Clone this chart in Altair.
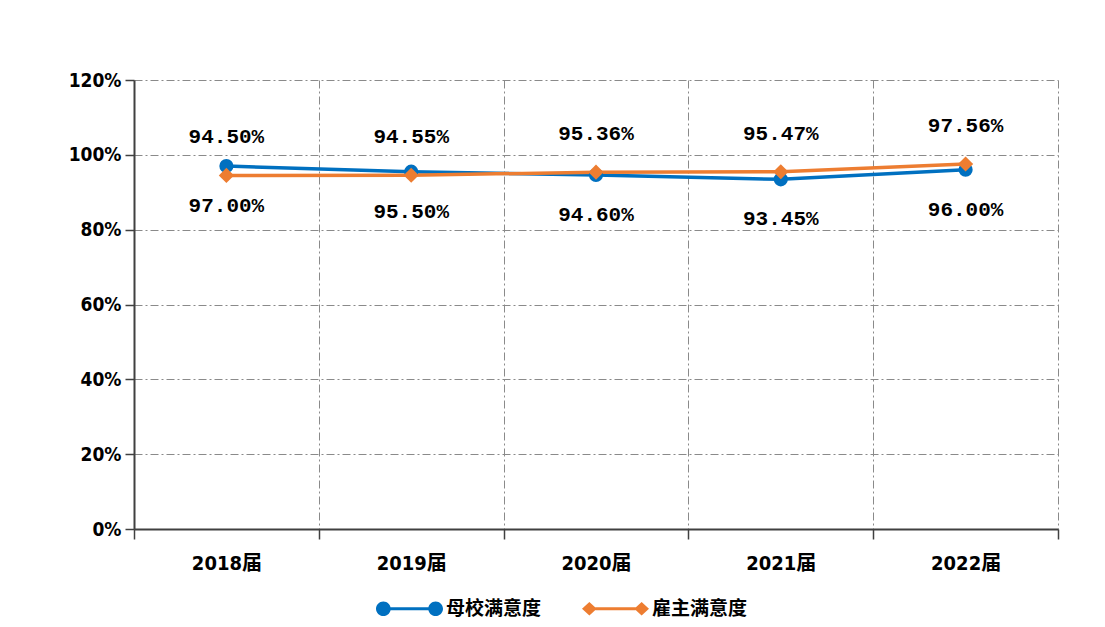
import altair as alt
import pandas as pd

years = ["2018届", "2019届", "2020届", "2021届", "2022届"]
school = [0.9700, 0.9550, 0.9460, 0.9345, 0.9600]      # 母校满意度
employer = [0.9450, 0.9455, 0.9536, 0.9547, 0.9756]    # 雇主满意度
series_names = ["母校满意度", "雇主满意度"]
colors = ["#0070C0", "#ED7D31"]
y_ticks = [0, 0.2, 0.4, 0.6, 0.8, 1.0, 1.2]

rows = []
for y, v in zip(years, school):
    rows.append({"year": y, "value": v, "series": series_names[0]})
for y, v in zip(years, employer):
    rows.append({"year": y, "value": v, "series": series_names[1]})
df = pd.DataFrame(rows)

NUM_FONT = "'Liberation Sans Narrow', 'DejaVu Sans Condensed', 'Liberation Sans', 'Noto Sans CJK SC'"
LBL_FONT = "'Liberation Mono', 'DejaVu Sans Mono', monospace"
CJK_FONT = "'Noto Sans CJK SC', sans-serif"

x_enc = alt.X("year:N", sort=years,
              scale=alt.Scale(type="band", paddingInner=0, paddingOuter=0),
              axis=alt.Axis(title=None, labelAngle=0, tickBand="extent", tickSize=10,
                            labelPadding=14, labelFont=NUM_FONT, labelFontSize=20,
                            labelFontWeight="bold", labelColor="#000000",
                            domainColor="#404040", domainWidth=2, tickColor="#404040",
                            tickWidth=1.5, grid=True, gridColor="#8a8a8a",
                            gridDash=[8, 3, 2, 3], gridWidth=1))
y_enc = alt.Y("value:Q",
              scale=alt.Scale(domain=[0, 1.2], nice=False),
              axis=alt.Axis(title=None, values=y_ticks, format=".0%", tickSize=9,
                            labelPadding=4, labelFont=NUM_FONT, labelFontSize=19,
                            labelFontWeight="bold", labelColor="#000000",
                            domainColor="#404040", domainWidth=2, tickColor="#404040",
                            tickWidth=1.5, grid=True, gridColor="#8a8a8a",
                            gridDash=[8, 3, 2, 3], gridWidth=1))
color_noleg = alt.Color("series:N", scale=alt.Scale(domain=series_names, range=colors), legend=None)

base = alt.Chart(df)

lines = base.mark_line(strokeWidth=3.5).encode(x=x_enc, y=y_enc, color=color_noleg)

pts_school = base.transform_filter(alt.datum.series == series_names[0]).mark_point(
    shape="circle", filled=True, size=200, opacity=1).encode(x=x_enc, y=y_enc, color=color_noleg)
pts_emp = base.transform_filter(alt.datum.series == series_names[1]).mark_point(
    shape="diamond", filled=True, size=230, opacity=1).encode(x=x_enc, y=y_enc, color=color_noleg)

txt_top = base.transform_filter(alt.datum.series == series_names[1]).mark_text(
    dy=-38, font=LBL_FONT, fontSize=21, fontWeight="bold", color="#000000").encode(
    x=x_enc, y=y_enc, text=alt.Text("value:Q", format=".2%"))
txt_bot = base.transform_filter(alt.datum.series == series_names[0]).mark_text(
    dy=40, font=LBL_FONT, fontSize=21, fontWeight="bold", color="#000000").encode(
    x=x_enc, y=y_enc, text=alt.Text("value:Q", format=".2%"))

leg_paths = [
    "M-1,0 A0.22,0.22 0 1,1 -0.56,0 A0.22,0.22 0 1,1 -1,0 Z "
    "M0.56,0 A0.22,0.22 0 1,1 1,0 A0.22,0.22 0 1,1 0.56,0 Z "
    "M-0.6,-0.045 L0.6,-0.045 L0.6,0.045 L-0.6,0.045 Z",
    "M-1,0 L-0.78,-0.2 L-0.56,0 L-0.78,0.2 Z "
    "M0.56,0 L0.78,-0.2 L1,0 L0.78,0.2 Z "
    "M-0.6,-0.045 L0.6,-0.045 L0.6,0.045 L-0.6,0.045 Z",
]
legend = alt.Legend(title=None, orient="none", legendX=242, legendY=495,
                    direction="horizontal", symbolSize=4489, symbolStrokeWidth=0,
                    symbolOpacity=1, symbolFillColor="#000000",
                    labelFont=CJK_FONT, labelFontSize=19, labelFontWeight="bold",
                    labelColor="#000000", labelOffset=3, columnPadding=40, padding=0)
leg_layer = base.mark_point(filled=True, fillOpacity=0, strokeOpacity=0, size=10).encode(
    x=x_enc, y=y_enc,
    color=alt.Color("series:N", scale=alt.Scale(domain=series_names, range=colors), legend=legend),
    shape=alt.Shape("series:N", scale=alt.Scale(domain=series_names, range=leg_paths), legend=legend),
)

chart = alt.layer(lines, pts_school, pts_emp, txt_top, txt_bot, leg_layer).resolve_legend(
    color="independent", shape="independent"
).properties(
    width=924, height=449,
    autosize=alt.AutoSizeParams(type="none"),
    padding={"left": 126, "top": 72, "right": 39, "bottom": 90},
    background="#ffffff",
).configure_view(stroke=None)

chart.save("out.html", embed_options={"renderer": "svg", "actions": False})
